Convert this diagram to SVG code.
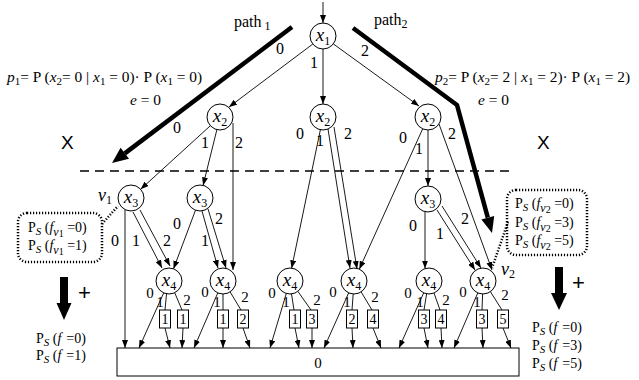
<svg xmlns="http://www.w3.org/2000/svg" width="639" height="380" viewBox="0 0 639 380" font-family="'Liberation Serif','Times New Roman',serif">
<style>
text{font-family:"Liberation Serif","Times New Roman",serif;fill:#000}
.n circle{fill:#fff;stroke:#000;stroke-width:1}
.nl{font-size:19px;text-anchor:middle}
.el{font-size:16px;text-anchor:middle}
.el4{font-size:15px;text-anchor:middle}
.e{stroke:#000;stroke-width:0.9;fill:none;marker-end:url(#ah)}
.b{stroke:#000;stroke-width:0.9;fill:none}
.box rect{fill:#fff;stroke:#000;stroke-width:1}
.bt{font-size:14px;text-anchor:middle}
.thick{stroke:#000;stroke-width:4.5;fill:none}
.dot{stroke:#000;stroke-width:2.5;stroke-dasharray:1.2 1.8;fill:none}
.f{font-size:14px}
.fm{font-size:15.4px}
text.sans{font-family:"Liberation Sans",Arial,sans-serif}
</style>
<defs>
<marker id="ah" markerWidth="8" markerHeight="6" refX="8" refY="3" orient="auto" markerUnits="userSpaceOnUse"><path d="M0,0 L8,3 L0,6 z" fill="#000"/></marker>
</defs>

<!-- thick path arrows -->
<g id="paths">
<polyline class="thick" points="292,27 124.8,153.4"/>
<polygon points="112,163 129,158.8 120.6,147.8" fill="#000"/>
<polyline class="thick" points="353,28 457,105 487.8,217.6"/>
<polygon points="492,233 494.2,216 481.4,219.4" fill="#000"/>
<text x="234" y="27" font-size="16">path<tspan font-size="12" dx="3" dy="3">1</tspan></text>
<text x="374" y="25" font-size="16">path<tspan font-size="12" dy="3">2</tspan></text>
</g>

<!-- dashed line -->
<line x1="80" y1="171" x2="512" y2="171" stroke="#000" stroke-width="1.5" stroke-dasharray="9 6"/>
<text x="61" y="149" class="sans" font-size="19">X</text>
<text x="537" y="149" class="sans" font-size="19">X</text>

<!-- formulas -->
<g id="formula1" class="fm">
<text x="7" y="82"><tspan font-style="italic">p</tspan><tspan font-size="11" dy="3">1</tspan><tspan dy="-3">= P (</tspan><tspan font-style="italic">x</tspan><tspan font-size="11" dy="3">2</tspan><tspan dy="-3">= 0 | </tspan><tspan font-style="italic">x</tspan><tspan font-size="11" dy="3">1</tspan><tspan dy="-3"> = 0)· P (</tspan><tspan font-style="italic">x</tspan><tspan font-size="11" dy="3">1</tspan><tspan dy="-3"> = 0)</tspan></text>
<text x="130" y="105"><tspan font-style="italic">e</tspan> = 0</text>
</g>
<g id="formula2" class="fm">
<text x="435" y="82"><tspan font-style="italic">p</tspan><tspan font-size="11" dy="3">2</tspan><tspan dy="-3">= P (</tspan><tspan font-style="italic">x</tspan><tspan font-size="11" dy="3">2</tspan><tspan dy="-3">= 2 | </tspan><tspan font-style="italic">x</tspan><tspan font-size="11" dy="3">1</tspan><tspan dy="-3"> = 2)· P (</tspan><tspan font-style="italic">x</tspan><tspan font-size="11" dy="3">1</tspan><tspan dy="-3"> = 2)</tspan></text>
<text x="478" y="105"><tspan font-style="italic">e</tspan> = 0</text>
</g>

<!-- connectors -->
<g id="connectors">
<line class="e" x1="323" y1="2" x2="323" y2="23"/>
<line class="e" x1="312.8" y1="44" x2="229" y2="107"/>
<line class="e" x1="323" y1="49" x2="323" y2="104"/>
<line class="e" x1="333.3" y1="43.9" x2="419" y2="106"/>
<line class="e" x1="210.4" y1="125.7" x2="140.6" y2="189.3"/>
<line class="e" x1="216.9" y1="129.6" x2="203.1" y2="185.4"/>
<line class="e" x1="233" y1="123" x2="233" y2="270"/>
<line class="e" x1="320.4" y1="129.7" x2="291.6" y2="268.3"/>
<line class="e" x1="328" y1="129" x2="350" y2="268"/>
<line class="e" x1="334" y1="127" x2="357" y2="269"/>
<line class="e" x1="422.7" y1="128.8" x2="359.3" y2="269.2"/>
<line class="e" x1="428" y1="130" x2="428" y2="186"/>
<line class="e" x1="439" y1="124" x2="492" y2="270"/>
<line class="e" x1="125" y1="209.5" x2="125" y2="348"/>
<line class="e" x1="133" y1="212" x2="162" y2="268"/>
<line class="e" x1="140" y1="210" x2="170" y2="266"/>
<line class="e" x1="195.5" y1="210.2" x2="173.5" y2="268.8"/>
<line class="e" x1="202" y1="211" x2="218" y2="268"/>
<line class="e" x1="208" y1="209" x2="226" y2="268"/>
<line class="e" x1="425" y1="211.5" x2="425" y2="268.6"/>
<line class="e" x1="437" y1="210" x2="475" y2="270"/>
<line class="e" x1="442" y1="206" x2="481" y2="268"/>
<line class="e" x1="163.7" y1="292.9" x2="139" y2="348"/>
<line class="b" x1="166.5" y1="293.8" x2="165" y2="310"/>
<line class="b" x1="174.7" y1="292.7" x2="182" y2="310"/>
<line class="e" x1="165" y1="328" x2="170" y2="348"/>
<line class="e" x1="183" y1="328" x2="182" y2="348"/>
<line class="e" x1="217.8" y1="292.9" x2="194" y2="348"/>
<line class="b" x1="223" y1="294" x2="223" y2="310"/>
<line class="b" x1="230.1" y1="291.9" x2="241" y2="310"/>
<line class="e" x1="223" y1="328" x2="223" y2="348"/>
<line class="e" x1="243" y1="328" x2="250" y2="348"/>
<line class="e" x1="286.3" y1="293.5" x2="270" y2="348"/>
<line class="b" x1="291.5" y1="293.9" x2="294" y2="310"/>
<line class="b" x1="297.9" y1="291.4" x2="311" y2="310"/>
<line class="e" x1="295" y1="328" x2="299" y2="348"/>
<line class="e" x1="312" y1="328" x2="312" y2="348"/>
<line class="e" x1="348.7" y1="292.9" x2="324" y2="348"/>
<line class="b" x1="353.2" y1="294" x2="352" y2="310"/>
<line class="b" x1="361.1" y1="291.9" x2="372" y2="310"/>
<line class="e" x1="352" y1="328" x2="353" y2="348"/>
<line class="e" x1="373" y1="328" x2="381" y2="348"/>
<line class="e" x1="423.7" y1="292.9" x2="399" y2="348"/>
<line class="b" x1="426.6" y1="293.8" x2="424" y2="310"/>
<line class="b" x1="434" y1="293" x2="440" y2="310"/>
<line class="e" x1="424" y1="328" x2="428" y2="348"/>
<line class="e" x1="441" y1="328" x2="442" y2="348"/>
<line class="e" x1="477.8" y1="292.9" x2="454" y2="348"/>
<line class="b" x1="482.6" y1="294" x2="482" y2="310"/>
<line class="b" x1="490.4" y1="291.7" x2="502" y2="310"/>
<line class="e" x1="482" y1="328" x2="483" y2="348"/>
<line class="e" x1="503" y1="328" x2="511" y2="348"/>
</g>

<!-- edge labels -->
<g id="edge-labels">
<text class="el" x="280" y="54">0</text><text class="el" x="314" y="68">1</text><text class="el" x="365" y="56">2</text>
<text class="el" x="177" y="133">0</text><text class="el" x="205" y="148">1</text><text class="el" x="239" y="148">2</text>
<text class="el" x="300" y="139">0</text><text class="el" x="320" y="146">1</text><text class="el" x="348" y="139">2</text>
<text class="el" x="403" y="143">0</text><text class="el" x="419" y="154">1</text><text class="el" x="452" y="139">2</text>
<text class="el" x="115" y="246">0</text><text class="el" x="136" y="246">1</text><text class="el" x="167" y="246">2</text>
<text class="el" x="177" y="229">0</text><text class="el" x="205" y="246">1</text><text class="el" x="219" y="224">2</text>
<text class="el" x="413" y="231">0</text><text class="el" x="440" y="239">1</text><text class="el" x="465" y="224">2</text>
<text class="el4" x="150" y="298">0</text><text class="el4" x="160" y="307">1</text><text class="el4" x="187" y="305">2</text>
<text class="el4" x="205" y="297">0</text><text class="el4" x="217" y="307">1</text><text class="el4" x="245" y="302">2</text>
<text class="el4" x="272" y="298">0</text><text class="el4" x="286" y="307">1</text><text class="el4" x="317" y="305">2</text>
<text class="el4" x="333" y="297">0</text><text class="el4" x="347" y="307">1</text><text class="el4" x="375" y="302">2</text>
<text class="el4" x="408" y="298">0</text><text class="el4" x="420" y="307">1</text><text class="el4" x="446" y="305">2</text>
<text class="el4" x="463" y="297">0</text><text class="el4" x="477" y="307">1</text><text class="el4" x="505" y="300">2</text>
</g>

<!-- nodes -->
<g id="x1" class="n"><circle cx="323" cy="36" r="13"/><text class="nl" x="323" y="41"><tspan font-style="italic">x</tspan><tspan font-size="12" dy="4">1</tspan></text></g>
<g id="x2a" class="n"><circle cx="220" cy="117" r="13"/><text class="nl" x="220" y="122"><tspan font-style="italic">x</tspan><tspan font-size="12" dy="4">2</tspan></text></g>
<g id="x2b" class="n"><circle cx="323" cy="117" r="13"/><text class="nl" x="323" y="122"><tspan font-style="italic">x</tspan><tspan font-size="12" dy="4">2</tspan></text></g>
<g id="x2c" class="n"><circle cx="428" cy="117" r="13"/><text class="nl" x="428" y="122"><tspan font-style="italic">x</tspan><tspan font-size="12" dy="4">2</tspan></text></g>
<g id="x3a" class="n"><circle cx="131" cy="198" r="13"/><text class="nl" x="131" y="203"><tspan font-style="italic">x</tspan><tspan font-size="12" dy="4">3</tspan></text></g>
<g id="x3b" class="n"><circle cx="200" cy="198" r="13"/><text class="nl" x="200" y="203"><tspan font-style="italic">x</tspan><tspan font-size="12" dy="4">3</tspan></text></g>
<g id="x3c" class="n"><circle cx="428" cy="199" r="13"/><text class="nl" x="428" y="204"><tspan font-style="italic">x</tspan><tspan font-size="12" dy="4">3</tspan></text></g>
<g id="x4a" class="n"><circle cx="169" cy="281" r="13"/><text class="nl" x="169" y="286"><tspan font-style="italic">x</tspan><tspan font-size="12" dy="4">4</tspan></text></g>
<g id="x4b" class="n"><circle cx="223" cy="281" r="13"/><text class="nl" x="223" y="286"><tspan font-style="italic">x</tspan><tspan font-size="12" dy="4">4</tspan></text></g>
<g id="x4c" class="n"><circle cx="290" cy="281" r="13"/><text class="nl" x="290" y="286"><tspan font-style="italic">x</tspan><tspan font-size="12" dy="4">4</tspan></text></g>
<g id="x4d" class="n"><circle cx="354" cy="281" r="13"/><text class="nl" x="354" y="286"><tspan font-style="italic">x</tspan><tspan font-size="12" dy="4">4</tspan></text></g>
<g id="x4e" class="n"><circle cx="429" cy="281" r="13"/><text class="nl" x="429" y="286"><tspan font-style="italic">x</tspan><tspan font-size="12" dy="4">4</tspan></text></g>
<g id="x4f" class="n"><circle cx="483" cy="281" r="13"/><text class="nl" x="483" y="286"><tspan font-style="italic">x</tspan><tspan font-size="12" dy="4">4</tspan></text></g>

<!-- terminal boxes -->
<g id="t1a" class="box"><rect x="159.5" y="310" width="11" height="18"/><text class="bt" x="165" y="324">1</text></g>
<g id="t1b" class="box"><rect x="177.5" y="310" width="11" height="18"/><text class="bt" x="183" y="324">1</text></g>
<g id="t2a" class="box"><rect x="217.5" y="310" width="11" height="18"/><text class="bt" x="223" y="324">1</text></g>
<g id="t2b" class="box"><rect x="237.5" y="310" width="11" height="18"/><text class="bt" x="243" y="324">2</text></g>
<g id="t3a" class="box"><rect x="289.5" y="310" width="11" height="18"/><text class="bt" x="295" y="324">1</text></g>
<g id="t3b" class="box"><rect x="306.5" y="310" width="11" height="18"/><text class="bt" x="312" y="324">3</text></g>
<g id="t4a" class="box"><rect x="346.5" y="310" width="11" height="18"/><text class="bt" x="352" y="324">2</text></g>
<g id="t4b" class="box"><rect x="367.5" y="310" width="11" height="18"/><text class="bt" x="373" y="324">4</text></g>
<g id="t5a" class="box"><rect x="418.5" y="310" width="11" height="18"/><text class="bt" x="424" y="324">3</text></g>
<g id="t5b" class="box"><rect x="435.5" y="310" width="11" height="18"/><text class="bt" x="441" y="324">4</text></g>
<g id="t6a" class="box"><rect x="476.5" y="310" width="11" height="18"/><text class="bt" x="482" y="324">3</text></g>
<g id="t6b" class="box"><rect x="497.5" y="310" width="11" height="18"/><text class="bt" x="503" y="324">5</text></g>
<g id="sink" class="box"><rect x="117" y="348" width="402" height="28"/><text x="318" y="368" font-size="15" text-anchor="middle">0</text></g>

<!-- v labels -->
<text x="98" y="201" font-size="18"><tspan font-style="italic">v</tspan><tspan font-size="12" dy="3">1</tspan></text>
<text x="501" y="275" font-size="18"><tspan font-style="italic">v</tspan><tspan font-size="12" dy="3">2</tspan></text>

<!-- dotted annotation boxes -->
<g id="note1">
<rect class="dot" x="18" y="213" width="84" height="49" rx="9"/>
<line class="dot" x1="102" y1="224" x2="118" y2="206"/>
<text class="f" x="28" y="232">P<tspan font-style="italic" font-size="11" dy="3">S</tspan><tspan dy="-3"> (</tspan><tspan font-style="italic">f</tspan><tspan font-style="italic" font-size="12" dy="4">v</tspan><tspan font-size="10" dy="1">1</tspan><tspan dy="-5"> =0)</tspan></text>
<text class="f" x="28" y="250">P<tspan font-style="italic" font-size="11" dy="3">S</tspan><tspan dy="-3"> (</tspan><tspan font-style="italic">f</tspan><tspan font-style="italic" font-size="12" dy="4">v</tspan><tspan font-size="10" dy="1">1</tspan><tspan dy="-5"> =1)</tspan></text>
</g>
<g id="note2">
<rect class="dot" x="507" y="190" width="80" height="65" rx="9"/>
<line class="dot" x1="508" y1="222" x2="492" y2="268"/>
<text class="f" x="515" y="208">P<tspan font-style="italic" font-size="11" dy="3">S</tspan><tspan dy="-3"> (</tspan><tspan font-style="italic">f</tspan><tspan font-style="italic" font-size="12" dy="4">v</tspan><tspan font-size="10" dy="1">2</tspan><tspan dy="-5"> =0)</tspan></text>
<text class="f" x="515" y="227">P<tspan font-style="italic" font-size="11" dy="3">S</tspan><tspan dy="-3"> (</tspan><tspan font-style="italic">f</tspan><tspan font-style="italic" font-size="12" dy="4">v</tspan><tspan font-size="10" dy="1">2</tspan><tspan dy="-5"> =3)</tspan></text>
<text class="f" x="515" y="245">P<tspan font-style="italic" font-size="11" dy="3">S</tspan><tspan dy="-3"> (</tspan><tspan font-style="italic">f</tspan><tspan font-style="italic" font-size="12" dy="4">v</tspan><tspan font-size="10" dy="1">2</tspan><tspan dy="-5"> =5)</tspan></text>
</g>

<!-- sum arrows and results -->
<g id="sum1">
<rect x="60" y="277" width="8" height="27" fill="#000"/>
<polygon points="56.5,303 71.5,303 64,320" fill="#000"/>
<text x="78" y="300" class="sans" font-size="22">+</text>
<text class="f" x="36" y="343">P<tspan font-style="italic" font-size="11" dy="3">S</tspan><tspan dy="-3"> (</tspan><tspan font-style="italic">f</tspan><tspan dx="5">=0)</tspan></text>
<text class="f" x="36" y="360">P<tspan font-style="italic" font-size="11" dy="3">S</tspan><tspan dy="-3"> (</tspan><tspan font-style="italic">f</tspan><tspan dx="5">=1)</tspan></text>
</g>
<g id="sum2">
<rect x="555" y="267" width="8" height="27" fill="#000"/>
<polygon points="551,293 567,293 559,310" fill="#000"/>
<text x="572" y="290" class="sans" font-size="22">+</text>
<text class="f" x="532" y="332">P<tspan font-style="italic" font-size="11" dy="3">S</tspan><tspan dy="-3"> (</tspan><tspan font-style="italic">f</tspan><tspan dx="5">=0)</tspan></text>
<text class="f" x="532" y="350">P<tspan font-style="italic" font-size="11" dy="3">S</tspan><tspan dy="-3"> (</tspan><tspan font-style="italic">f</tspan><tspan dx="5">=3)</tspan></text>
<text class="f" x="532" y="368">P<tspan font-style="italic" font-size="11" dy="3">S</tspan><tspan dy="-3"> (</tspan><tspan font-style="italic">f</tspan><tspan dx="5">=5)</tspan></text>
</g>
</svg>
